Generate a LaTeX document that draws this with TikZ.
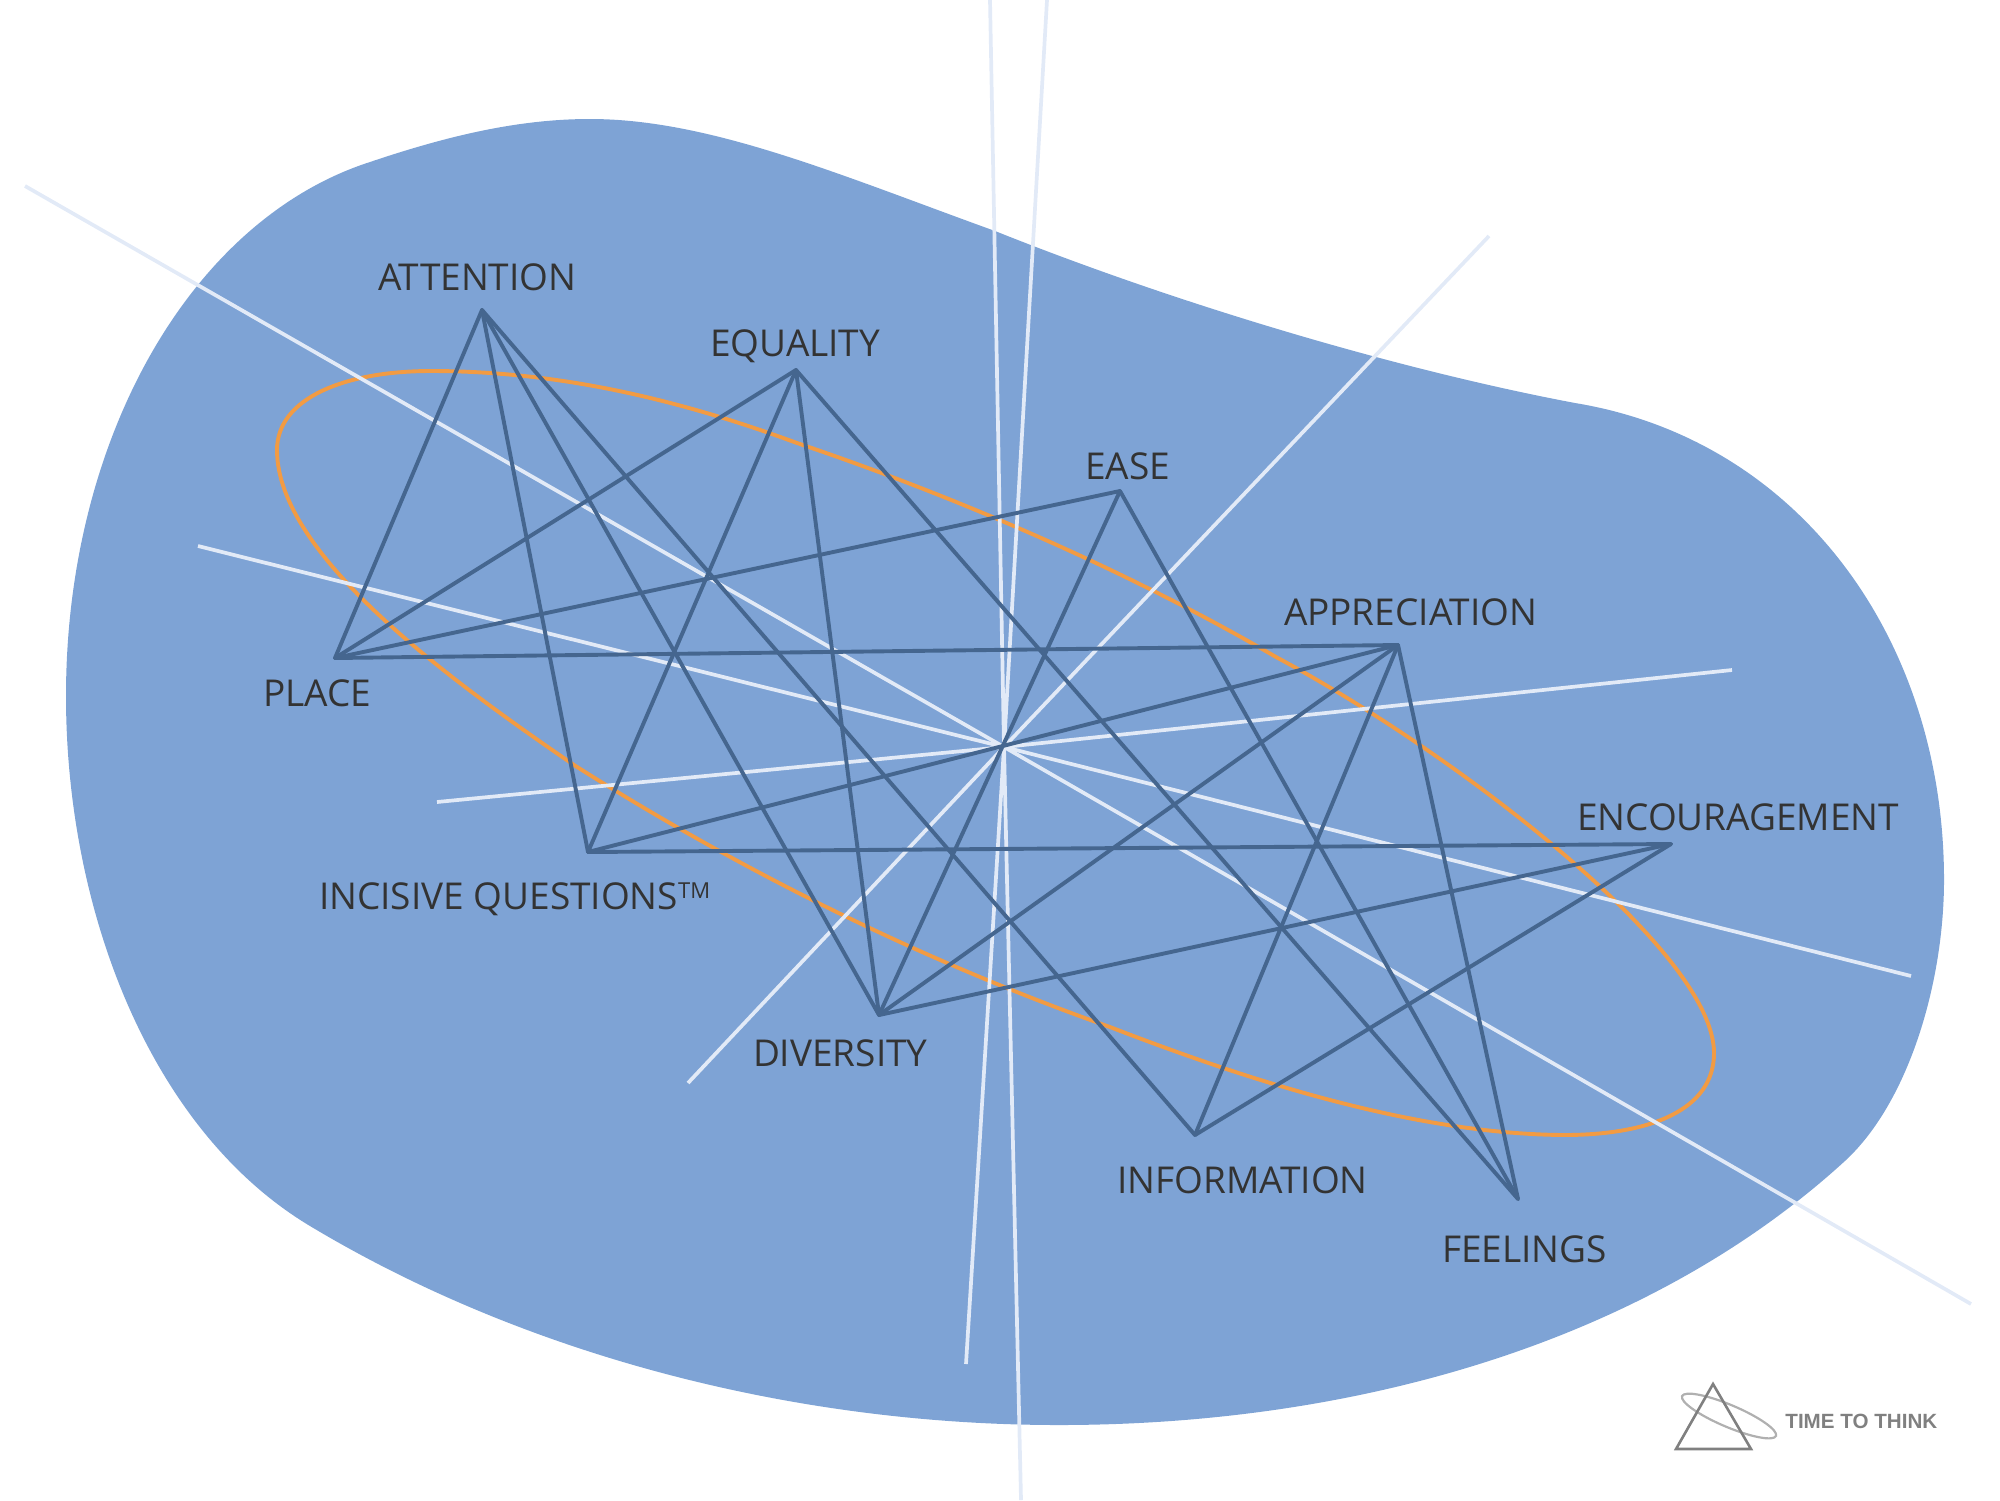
\documentclass[tikz,border=0pt]{standalone}
\usepackage{fontspec}
\setmainfont{Open Sans}
\newfontfamily\logofont{Liberation Sans}
\definecolor{blob}{HTML}{7EA3D5}
\definecolor{inkline}{HTML}{45668F}
\definecolor{rayline}{HTML}{E2EAF7}
\definecolor{orangeline}{HTML}{F29B43}
\definecolor{labeltext}{HTML}{333333}
\definecolor{logodark}{HTML}{808080}
\definecolor{logolight}{HTML}{B0B0B0}
\tikzset{
 star/.style={draw=inkline,line width=1.95pt,line cap=round,line join=round},
 ray/.style={draw=rayline,line width=1.85pt},
 lab/.style={anchor=base west,inner sep=0pt,outer sep=0pt,text=labeltext,font=\fontsize{18.5}{22}\selectfont}
}
\begin{document}
\begin{tikzpicture}[x=0.5pt,y=-0.5pt]
\useasboundingbox (0,0) rectangle (2000,1500);
\fill[blob] (370,162) .. controls (450,135) and (520,119) .. (590,119)
 .. controls (710,119) and (840,175) .. (995,231)
 .. controls (1180,305) and (1400,370) .. (1575,403)
 .. controls (1800,440) and (1944,640) .. (1944,880)
 .. controls (1944,980) and (1910,1100) .. (1846,1160)
 .. controls (1650,1340) and (1360,1425) .. (1059,1425)
 .. controls (800,1425) and (530,1358) .. (310,1226)
 .. controls (150,1130) and (66,910) .. (66,696)
 .. controls (66,440) and (190,220) .. (370,162) -- cycle;
% orange loop
\draw[orangeline,line width=1.95pt] (277,450) .. controls (277,398) and (345,371) .. (431,371)
 .. controls (560,371) and (680,400) .. (797,443)
 .. controls (960,498) and (1130,572) .. (1276,657)
 .. controls (1450,750) and (1714,950) .. (1714,1053)
 .. controls (1714,1110) and (1650,1135) .. (1564,1135)
 .. controls (1420,1134) and (1260,1085) .. (1110,1027)
 .. controls (920,960) and (740,870) .. (574,765)
 .. controls (450,680) and (277,555) .. (277,450) -- cycle;
% vertices
\coordinate (att) at (482,310);
\coordinate (equ) at (796,370);
\coordinate (eas) at (1120,491);
\coordinate (app) at (1398,645);
\coordinate (enc) at (1671,844);
\coordinate (fee) at (1518,1199);
\coordinate (inf) at (1195,1135);
\coordinate (div) at (879,1015);
\coordinate (inc) at (588,852);
\coordinate (pla) at (335,658);
\coordinate (cen) at (1004,747);
% ray ends
\coordinate (r1a) at (25,186);  \coordinate (r1b) at (1971,1304);
\coordinate (r2a) at (198,546); \coordinate (r2b) at (1911,976);
\coordinate (r3a) at (437,802); \coordinate (r3b) at (1732,670);
\coordinate (r4a) at (688,1083);\coordinate (r4b) at (1489,236);
\coordinate (r5a) at (966,1364);\coordinate (r5b) at (1047,0);
\coordinate (r6a) at (1021,1500);\coordinate (r6b) at (990,0);
% rays
\foreach \n in {1,...,6}{
 \draw[ray] (r\n a) -- (cen) -- (r\n b);
}
% star lines
\foreach \a/\b in {att/pla,att/inc,att/div,att/inf,
 equ/pla,equ/inc,equ/div,equ/fee,
 eas/pla,eas/div,eas/fee,
 app/pla,app/inc,app/div,app/inf,app/fee,
 enc/inc,enc/div,enc/inf}{
 \draw[star] (\a) -- (\b);
}
% labels
\node[lab] (tatt) at (378,290) {ATTENTION};
\node[lab] (tequ) at (710,356) {EQUALITY};
\node[lab] (teas) at (1085,479) {EASE};
\node[lab] (tapp) at (1284,625) {APPRECIATION};
\node[lab] (tenc) at (1577,830) {ENCOURAGEMENT};
\node[lab] (tpla) at (263,706) {PLACE};
\node[lab] (tinc) at (319,909) {INCISIVE QUESTIONS\raisebox{5.5pt}{\fontsize{11}{12}\selectfont TM}};
\node[lab] (tdiv) at (753,1066) {DIVERSITY};
\node[lab] (tinf) at (1117,1193) {INFORMATION};
\node[lab] (tfee) at (1442,1262) {FEELINGS};
% logo
\draw[logolight,line width=1.1pt,rotate around={-23:(1729,1416)}] (1729,1416) ellipse[x radius=51,y radius=11];
\coordinate (lga) at (1713,1384);
\coordinate (lgb) at (1676,1449);
\coordinate (lgc) at (1751,1449);
\draw[logodark,line width=1.3pt] (lga) -- (lgb) -- (lgc) -- cycle;
\node[anchor=base west,inner sep=0pt,text=logodark,font=\logofont\bfseries\fontsize{10.3}{12}\selectfont] (logo) at (1785,1428) {TIME TO THINK};
\end{tikzpicture}
\end{document}
